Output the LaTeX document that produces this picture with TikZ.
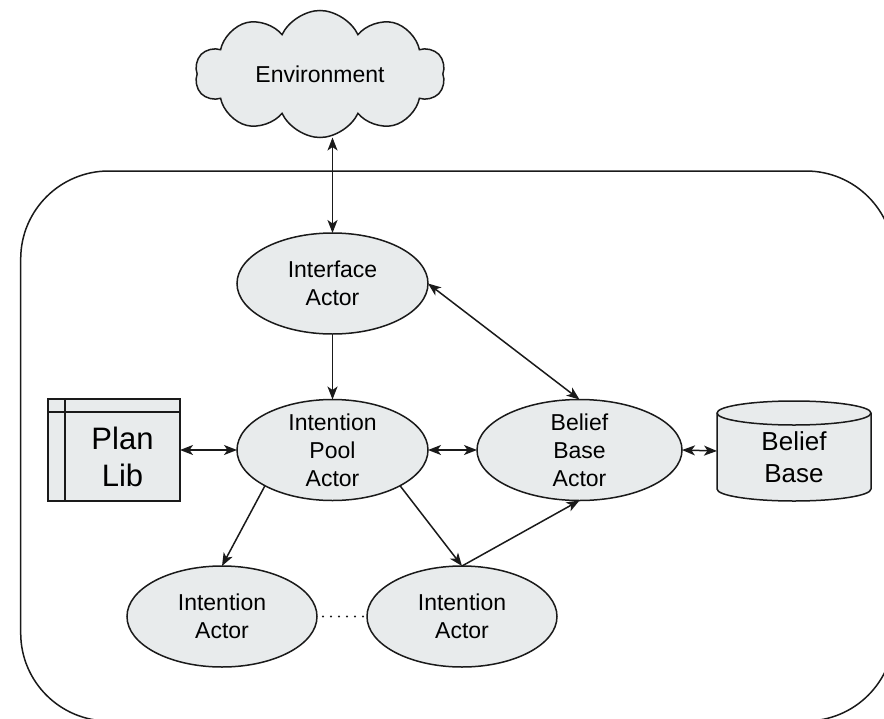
\documentclass[tikz,border=0pt]{standalone}
\usepackage{fontspec}
\setmainfont{Liberation Sans}
\usetikzlibrary{shapes.geometric,shapes.symbols,arrows.meta,calc}
\definecolor{nodefill}{RGB}{232,235,236}
\definecolor{linec}{RGB}{26,26,26}
\begin{document}
\begin{tikzpicture}[x=1pt,y=1pt,
  line width=1.5pt, draw=linec,
  actor/.style={ellipse,draw=linec,fill=nodefill,inner sep=0pt,outer sep=0pt,minimum width=#1,minimum height=101pt},
  actor/.default=191pt,
  lbl/.style={font=\fontsize{23}{28}\selectfont,align=center,inner sep=0pt,text=black},
  biglbl/.style={font=\fontsize{31}{37}\selectfont,align=center,inner sep=0pt,text=black},
  midlbl/.style={font=\fontsize{26}{32}\selectfont,align=center,inner sep=0pt,text=black},
  tipa/.style={-{Stealth[length=13pt,width=10pt,inset=3.5pt]}},
  dtipa/.style={{Stealth[length=13pt,width=10pt,inset=3.5pt]}-{Stealth[length=13pt,width=10pt,inset=3.5pt]}},
  dotline/.style={line width=2.2pt,line cap=round,dash pattern=on 0pt off 8pt}
]
\useasboundingbox (0,0) rectangle (884,-718);
\fill[white] (0,0) rectangle (884,-718);

% outer rounded container (clipped by picture edge)
\begin{scope}
\clip (0,0) rectangle (884,-718);
\draw[rounded corners=88pt] (20.7,-171) rectangle (894,-721);
\end{scope}

% nodes
\node[cloud, cloud puffs=10, cloud puff arc=130, aspect=2, draw=linec, fill=nodefill,
      minimum width=250pt, minimum height=127pt, inner sep=0pt, outer sep=0pt,
      label={[lbl]center:Environment}] (env) at (320,-74) {};

\node[actor, label={[lbl]center:{Interface\\Actor}}] (iface) at (332.5,-283.5) {};
\node[actor, label={[lbl]center:{Intention\\Pool\\Actor}}] (ipa) at (332.5,-450) {};
\node[actor=205pt, label={[lbl]center:{Belief\\Base\\Actor}}] (bba) at (579.5,-450) {};
\node[actor=190pt, label={[lbl]center:{Intention\\Actor}}] (ia1) at (222,-616.5) {};
\node[actor=190pt, label={[lbl]center:{Intention\\Actor}}] (ia2) at (462,-616.5) {};

% Plan Lib
\node[rectangle, draw=linec, fill=nodefill, minimum width=132pt, minimum height=102pt,
      inner sep=0pt, outer sep=0pt] (plan) at (114,-450) {};
\draw ($(plan.north west)+(17,0)$) -- ($(plan.south west)+(17,0)$);
\draw ($(plan.north west)+(0,-13)$) -- ($(plan.north east)+(0,-13)$);
\node[biglbl] (plantext) at ($(plan.center)+(8.5,-6.5)$) {Plan\\Lib};

% Belief Base cylinder
\node[rectangle, minimum width=154pt, minimum height=100pt, inner sep=0pt, outer sep=0pt] (bb) at (794,-451) {};
\filldraw[fill=nodefill] ($(bb.north west)+(0,-12)$) -- ($(bb.south west)+(0,12)$)
   arc[start angle=180, end angle=360, x radius=77pt, y radius=12pt]
   -- ($(bb.north east)+(0,-12)$)
   arc[start angle=0, end angle=180, x radius=77pt, y radius=12pt] -- cycle;
\draw ($(bb.north west)+(0,-12)$) arc[start angle=180, end angle=360, x radius=77pt, y radius=12pt];
\node[midlbl] (bbtext) at ($(bb.center)+(0,-6.5)$) {Belief\\Base};

% connectors
\draw[dtipa] (env.south -| iface.north) -- (iface.north);
\draw[tipa] (iface.south) -- (ipa.north);
\draw[dtipa] (iface.east) -- (bba.north);
\draw[dtipa] (plan.east) -- (ipa.west);
\draw[dtipa] (ipa.east) -- (bba.west);
\draw[dtipa] (bba.east) -- (bb.west);
\draw[tipa] (ipa.south west) -- (ia1.north);
\draw[tipa] (ipa.south east) -- (ia2.north);
\draw[tipa] (ia2.north) -- (bba.south);
\draw[dotline] ($(ia1.east)+(6,0)$) -- (ia2.west);
\end{tikzpicture}
\end{document}
